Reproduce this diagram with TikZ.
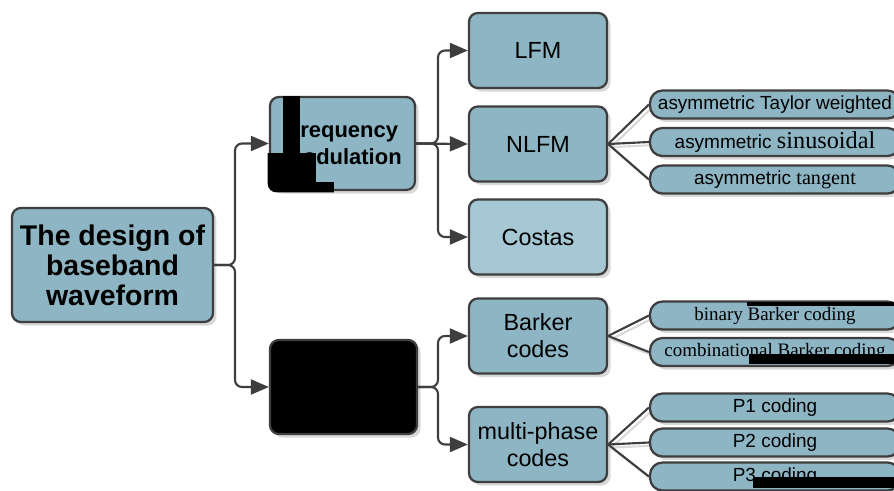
\documentclass[tikz,border=0pt]{standalone}
\usepackage{fontspec}
\setmainfont{Liberation Sans}
\newfontfamily\rmleaf{Liberation Serif}
\usetikzlibrary{arrows.meta,shadows,backgrounds}
\definecolor{wavefill}{RGB}{141,181,196}
\definecolor{wavepale}{RGB}{165,200,212}
\definecolor{wavedge}{RGB}{62,62,62}
\tikzset{
  card/.style={draw=wavedge, line width=1.3pt, rounded corners=5pt, fill=wavefill,
               align=center, inner sep=2pt,
               drop shadow={shadow xshift=2pt, shadow yshift=-2pt, fill=black!30, opacity=0.5}},
  rootbox/.style={card, minimum width=4.02cm, minimum height=2.28cm,
               font=\bfseries\fontsize{16.2}{17}\selectfont},
  topicbox/.style={card, minimum width=2.9cm, minimum height=1.86cm,
               font=\bfseries\fontsize{12.5}{15.3}\selectfont},
  itembox/.style={card, minimum width=2.76cm, minimum height=1.5cm,
               font=\fontsize{13.3}{15.3}\selectfont},
  leafbox/.style={card, rounded corners=0.25cm, minimum width=5cm, minimum height=0.56cm,
               inner sep=0pt, font=\fontsize{10.8}{12}\selectfont},
  flow/.style={draw=wavedge, line width=1.2pt, rounded corners=4pt,
               -{Triangle[length=3.6mm,width=3mm]}},
  twig/.style={draw=wavedge, line width=1.2pt},
  twigshade/.style={draw=black!15, line width=1.2pt, transform canvas={shift={(1.8pt,-1.8pt)}}},
}
\begin{document}
\begin{tikzpicture}[x=0.02cm, y=-0.02cm]
  \useasboundingbox (0,0) rectangle (894,491);
  \clip (0,0) rectangle (894,491);

  % root and the two families
  \node[rootbox] (root) at (112.5,265) {The design of\\baseband\\waveform};
  \node[topicbox] (freq) at (342.5,143.5) {Frequency\\modulation};
  \node[topicbox, fill=black, minimum width=2.94cm, minimum height=1.88cm] (phase) at (343.5,387) {};

  % frequency modulated waveforms
  \node[itembox] (lfm) at (538,50.5) {LFM};
  \node[itembox] (nlfm) at (538,144) {NLFM};
  \node[itembox, fill=wavepale] (costas) at (538,237) {Costas};

  % phase coded waveforms
  \node[itembox] (barker) at (538,336) {Barker\\codes};
  \node[itembox] (multi) at (538,444.5) {multi-phase\\codes};

  % leaves
  \node[leafbox] (taylor) at (775,104.5) {asymmetric Taylor weighted};
  \node[leafbox] (sinus) at (775,142) {asymmetric {\rmleaf\fontsize{13.8}{14}\selectfont sinusoidal}};
  \node[leafbox] (tang) at (775,179.5) {asymmetric {\rmleaf\fontsize{11.5}{12}\selectfont tangent}};
  \node[leafbox, font=\rmleaf\fontsize{10.8}{12}\selectfont] (binary) at (775,315.5) {binary Barker coding};
  \node[leafbox, font=\rmleaf\fontsize{10.8}{12}\selectfont] (combi) at (775,352) {combinational Barker coding};
  \node[leafbox] (pone) at (775,407.5) {P1 coding};
  \node[leafbox] (ptwo) at (775,442.5) {P2 coding};
  \node[leafbox] (pthree) at (775,476.5) {P3 coding};

  % forks with arrows
  \coordinate (rootfork) at (235,265);
  \coordinate (freqfork) at (438,143.5);
  \coordinate (phasefork) at (438,387);
  \draw[flow] (root.east) -- (rootfork) |- (freq.west);
  \draw[flow] (root.east) -- (rootfork) |- (phase.west);
  \draw[flow] (freq.east) -- (freqfork) |- (lfm.west);
  \draw[flow] (freq.east) -- (nlfm.west);
  \draw[flow] (freq.east) -- (freqfork) |- (costas.west);
  \draw[flow] (phase.east) -- (phasefork) |- (barker.west);
  \draw[flow] (phase.east) -- (phasefork) |- (multi.west);

  % plain twigs to the leaves
  \begin{scope}[on background layer]
    \foreach \a/\b in {nlfm/taylor,nlfm/sinus,nlfm/tang,barker/binary,barker/combi,multi/pone,multi/ptwo,multi/pthree}
      \draw[twigshade] (\a.east) -- (\b.west);
  \end{scope}
  \foreach \a/\b in {nlfm/taylor,nlfm/sinus,nlfm/tang,barker/binary,barker/combi,multi/pone,multi/ptwo,multi/pthree}
    \draw[twig] (\a.east) -- (\b.west);

  % blacked-out patches
  \begin{scope}
    \clip[rounded corners=5pt] ([shift={(-0.7pt,0.7pt)}]freq.north west) rectangle ([shift={(0.7pt,-0.7pt)}]freq.south east);
    \fill (283,96) rectangle (300,153);
    \fill (260,153) rectangle (316,182);
    \fill (260,182) rectangle (334,195);
  \end{scope}
  \fill (747,302) rectangle (900,306);
  \fill (749,354) rectangle (900,364);
  \fill (753,477) rectangle (900,488);
\end{tikzpicture}
\end{document}
